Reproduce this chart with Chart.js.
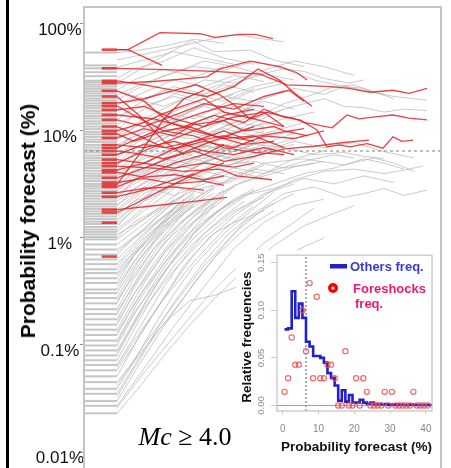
<!DOCTYPE html>
<html>
<head>
<meta charset="utf-8">
<script src="https://cdn.jsdelivr.net/npm/chart.js@4.4.1/dist/chart.umd.min.js"></script>
<style>
  body { margin: 0; background: #fff; }
  #wrap { position: relative; width: 451px; height: 468px; overflow: hidden; background: #fff; }
  #edge { position: absolute; left: 6px; top: 0; width: 3px; height: 468px; background: #000; }
  #main { position: absolute; left: 0; top: 0; }
  #inset { position: absolute; left: 236px; top: 250px; background: #fff; }
  #ytitle { position: absolute; left: 28px; top: 221px; transform: translate(-50%, -50%) rotate(-90deg);
            white-space: nowrap; font: bold 21px "Liberation Sans", Arial, sans-serif; color: #000; }
  #mc { position: absolute; left: 185px; top: 437px; transform: translate(-50%, -50%);
        white-space: nowrap; font: 26px "Liberation Serif", "Times New Roman", serif; color: #000; }
</style>
</head>
<body>
<div id="wrap">
  <div id="edge"></div>
  <canvas id="main" width="451" height="468"></canvas>
  <div id="ytitle">Probability forecast (%)</div>
  <div id="mc"><i>Mc</i> ≥ 4.0</div>
  <canvas id="inset" width="203" height="218"></canvas>
</div>
<script>
// ---- main panel data (x = time step, y = forecast in %) ----
const yTickValues = [0.01, 0.1, 1, 10, 100];
const yTickLabels = ['0.01%', '0.1%', '1%', '10%', '100%'];
const threshold = 6.5;
const rugStart = 0.1, redRugStart = 1.77, lineStart = 3.3;

// starting forecasts of all sequences (left rug)
const grayRug = [54, 41, 38.5, 35.4, 32.5, 29.5, 28.6, 27.2, 26, 24.8, 23.5, 22.4, 21.3, 20.1, 19.2, 18.1,
  17.2, 16.3, 15.4, 14.6, 13.8, 13.1, 12.3, 11.7, 11.0, 10.4, 9.8, 9.3, 8.8, 8.3, 7.9, 7.4, 7.0, 6.6,
  6.3, 5.9, 5.6, 5.3, 5.0, 4.75, 4.5, 4.25, 4.0, 3.8, 3.6, 3.4, 3.2, 3.05, 2.9, 2.74, 2.6, 2.46, 2.33,
  2.2, 2.08, 1.97, 1.87, 1.77, 1.68, 1.59, 1.5, 1.42, 1.35, 1.27, 1.2, 1.14, 1.08, 1.02,
  0.97, 0.87, 0.78, 0.70, 0.63, 0.57, 0.51, 0.47, 0.42, 0.38, 0.33, 0.305, 0.275, 0.245, 0.216, 0.195,
  0.174, 0.155, 0.139, 0.124, 0.110, 0.099, 0.089, 0.080, 0.072, 0.065, 0.058, 0.051, 0.045, 0.039,
  0.035, 0.030, 0.027, 0.023];

// starting forecasts of foreshock sequences
const redRug = [57.5, 38.5, 29.4, 28, 23.7, 21, 18.2, 17.1, 15.7, 14.1, 12.7, 11, 10, 9.4, 8.6, 7.4, 6.95,
  6.5, 6.0, 5.4, 5.0, 4.7, 4.3, 4.1, 3.65, 3.3, 3.15, 3.0, 2.65, 2.43, 1.84, 1.73, 1.39, 0.67];

// other sequences
const grayPaths = [
  [[3.3,0.023],[5.5,0.04],[8,0.08],[10.5,0.15],[13,0.27],[16,0.5],[19,0.85],[22,1.3],[25,1.7],[27,2.0]],
  [[3.3,0.026],[6,0.055],[9,0.12],[12,0.26],[15,0.5],[18,0.9],[21,1.4],[23,1.9]],
  [[3.3,0.027],[6,0.06],[9,0.15],[12,0.35],[15,0.8],[18,1.4],[21,2.0],[24,2.3]],
  [[3.3,0.030],[5.5,0.065],[8,0.15],[11,0.38],[14,0.85],[16,1.4],[19,2.1]],
  [[3.3,0.033],[5,0.06],[7,0.12],[10,0.28],[13,0.65],[16,1.2],[19,1.8]],
  [[3.3,0.035],[6,0.09],[9,0.25],[12,0.6],[14.5,1.1],[17,1.7],[20,2.6],[23,3.0],[26,2.4],[28,2.6],[30,2.9],[32,2.5],[34.3,2.8]],
  [[3.3,0.039],[5,0.07],[7,0.15],[9,0.3],[11,0.55],[14,1.1],[17,1.9],[19,2.7]],
  [[3.3,0.042],[6,0.1],[9,0.24],[12,0.55],[15,1.1],[18,1.9],[21,2.6]],
  [[3.3,0.045],[5.5,0.08],[8,0.16],[10.6,0.26],[13,0.29],[15.3,0.35],[18,0.5],[21,0.75],[24,1.0]],
  [[3.3,0.051],[5.5,0.12],[8,0.28],[10,0.55],[12.5,1.0],[15,1.6],[18,2.5],[21,3.5],[24,4.2],[27,4.4],[30,4.0],[32,4.3],[33.9,4.7]],
  [[3.3,0.058],[5,0.1],[7,0.2],[9,0.38],[11,0.7],[13,1.1],[15,1.4],[18,1.8]],
  [[3.3,0.062],[5,0.11],[8,0.27],[11,0.6],[14,1.2],[17,2.0]],
  [[3.3,0.065],[6,0.17],[8,0.35],[10,0.65],[12,1.1],[15,1.8],[18,2.4]],
  [[3.3,0.072],[5,0.14],[7,0.3],[9,0.55],[11,0.9],[14,1.6],[16,2.2]],
  [[3.3,0.080],[5,0.16],[7,0.34],[9,0.65],[11,1.1],[13,1.7],[16,2.5],[19,2.9],[22,3.6],[25,3.2],[28,3.8],[31,3.3]],
  [[3.3,0.085],[6,0.22],[9,0.5],[12,1.0],[15,1.7],[18,2.6],[21,3.2]],
  [[3.3,0.089],[6,0.24],[8.5,0.55],[11,1.1],[13.5,1.8],[16,2.5],[19,3.2],[22,4.0],[25,4.5],[28,5.5],[30,5.0],[32,4.4]],
  [[3.3,0.099],[5,0.19],[7,0.38],[9,0.72],[11,1.25],[13,2.0]],
  [[3.3,0.105],[5,0.2],[8,0.48],[11,1.0],[14,1.8],[17,2.8]],
  [[3.3,0.110],[5.5,0.26],[8,0.58],[10,1.0],[12,1.45],[15,2.3],[17,2.9]],
  [[3.3,0.124],[5,0.24],[7,0.46],[9,0.85],[11,1.4],[13,2.2],[15,3.0]],
  [[3.3,0.131],[6,0.33],[9,0.75],[12,1.4],[15,2.3]],
  [[3.3,0.139],[6,0.38],[8,0.72],[10,1.2],[12,1.7],[14,2.5]],
  [[3.3,0.155],[5,0.3],[7,0.58],[9,1.0],[11,1.6],[13.5,2.6],[16,3.4],[19,4.3],[22,5.2],[25,6.0],[27,5.6]],
  [[3.3,0.165],[5,0.3],[8,0.72],[11,1.4],[14,2.3]],
  [[3.3,0.174],[5,0.34],[7,0.66],[9,1.15],[11,1.8],[14,2.8]],
  [[3.3,0.195],[5.5,0.45],[7.5,0.85],[9.5,1.35],[12,2.0],[15,3.1],[18,3.8],[21,4.6],[24,5.2]],
  [[3.3,0.205],[6,0.5],[8,0.9],[11,1.6],[14,2.4]],
  [[3.3,0.216],[5,0.42],[7,0.8],[9,1.35],[11,2.1],[13,2.9]],
  [[3.3,0.245],[5,0.48],[7,0.9],[9,1.5],[11,2.1],[13,2.6]],
  [[3.3,0.26],[5,0.45],[7,0.8],[10,1.5],[13,2.4]],
  [[3.3,0.275],[5.5,0.62],[7.5,1.05],[10,1.7],[12,2.3]],
  [[3.3,0.305],[5,0.55],[7,0.95],[9,1.6],[11,2.3],[13,3.1]],
  [[3.3,0.33],[5,0.6],[7,1.05],[9,1.7],[11,2.5]],
  [[3.3,0.36],[6,0.8],[8,1.25],[11,2.0]],
  [[3.3,0.38],[5,0.68],[7,1.15],[9,1.9],[11,2.7]],
  [[3.3,0.42],[5.5,0.8],[8,1.4],[10,2.1]],
  [[3.3,0.45],[5,0.7],[8,1.3],[11,2.2]],
  [[3.3,0.47],[5,0.75],[7,1.2],[9,1.8]],
  [[3.3,0.51],[6,0.9],[8,1.4],[10,2.0]],
  [[3.3,0.54],[6,1.0],[9,1.7],[12,2.6]],
  [[3.3,0.57],[5,0.85],[7,1.3],[9,1.9],[11,2.6]],
  [[3.3,0.63],[5.5,1.0],[8,1.6],[10,2.3]],
  [[3.3,0.70],[5,1.0],[7,1.5],[9,2.2]],
  [[3.3,0.74],[5,1.0],[8,1.6],[11,2.4]],
  [[3.3,0.78],[6,1.2],[8,1.8],[10,2.5]],
  [[3.3,0.87],[5,1.15],[7,1.6],[9,2.3]],
  [[3.3,0.97],[6,1.5],[8,2.1],[10,2.9]],
  [[3.3,1.02],[5,1.4],[8,2.0],[11,2.8],[14,3.3],[17,4.4],[20,4.0]],
  [[3.3,1.08],[6,1.5],[9,2.2],[12,3.5],[15,4.5],[18,4.0],[21,5.5],[24,6.5]],
  [[3.3,1.14],[6,1.8],[9,2.9],[12,4.2],[15,3.6],[18,4.8]],
  [[3.3,1.2],[5,1.6],[8,2.8],[11,4.0],[14,5.5],[17,7.0],[20,6.0]],
  [[3.3,1.27],[5,1.9],[8,3.0],[11,3.6],[14,4.8],[17,5.2],[20,4.5],[23,5.0]],
  [[3.3,1.34],[6,2.2],[9,3.0],[12,2.6],[15,3.8],[18,5.0],[22,5.5],[26,4.8],[29,5.6],[31,5.0],[33,4.2]],
  [[3.3,1.42],[6,2.4],[9,4.0],[12,3.4],[15,5.0],[18,6.2]],
  [[3.3,1.49],[5,2.0],[8,3.2],[11,4.5],[13,6.0],[16,5.0],[19,7.5],[22,9]],
  [[3.3,1.59],[5,2.2],[8,2.8],[11,3.9],[14,3.2],[17,4.1]],
  [[3.3,1.66],[6,2.6],[9,3.6],[12,5.0],[15,6.5],[18,8.0]],
  [[3.3,1.77],[6,2.8],[9,4.4],[12,6.0],[15,7.2],[18,6.4],[21,7.5]],
  [[3.3,1.84],[5,2.5],[7,3.5],[10,4.2],[13,5.5],[16,8.5],[19,10],[22,12]],
  [[3.3,1.97],[5,2.9],[8,4.0],[11,5.5],[14,4.6],[17,5.8]],
  [[3.3,2.05],[6,3.0],[9,2.5],[12,3.2],[15,4.2],[18,3.6]],
  [[3.3,2.2],[6,3.3],[9,4.9],[12,4.2],[15,5.6],[18,7.6],[21,9.5]],
  [[3.3,2.28],[5,3.5],[8,5.0],[11,7.0],[14,9.0],[17,11],[20,13],[23,15]],
  [[3.3,2.46],[5,3.2],[8,4.4],[11,6.2],[14,7.5],[17,6.5]],
  [[3.3,2.54],[6,4.0],[9,6.5],[12,5.5],[15,8.0],[18,10]],
  [[3.3,2.74],[6,4.2],[9,5.2],[12,7.2],[15,6.4],[18,8.5]],
  [[3.3,2.83],[5,3.8],[8,5.5],[11,4.8],[14,6.0],[17,7.5],[20,7.0],[23,6.0],[26,6.3],[28,5.8],[30,5.5]],
  [[3.3,3.05],[5,4.2],[8,6.3],[11,8.0],[14,10.5],[17,9.0]],
  [[3.3,3.15],[6,4.5],[9,6.0],[12,8.5],[15,11],[18,14],[21,17],[24,20],[26,17],[28,16.5],[30,15],[32,16],[34.3,15.5]],
  [[3.3,3.4],[6,5.0],[9,4.4],[12,5.6],[15,7.0],[18,8.8],[21,10]],
  [[3.3,3.5],[5,5.0],[8,7.5],[11,10],[14,9],[17,12],[20,16]],
  [[3.3,3.8],[5,4.6],[8,6.0],[11,7.6],[14,6.8],[17,8.2]],
  [[3.3,3.9],[6,5.5],[9,7.0],[12,6.5],[15,5.5],[18,6.5],[21,8.0],[24,7.0],[27,7.8],[30,6.4],[33,5.6]],
  [[3.3,4.25],[6,6.2],[9,8.0],[12,7.0],[15,9.5],[18,12]],
  [[3.3,4.3],[5,6],[8,8.5],[11,12],[14,15],[17,13],[20,18],[23,22],[25,26],[27,27],[29,23],[31,21],[33,20],[34.3,19.4]],
  [[3.3,4.8],[6,7],[9,9.5],[12,13],[15,11],[18,9.5]],
  [[3.3,5.0],[5,6.8],[8,9.2],[11,8.4],[14,11],[17,14]],
  [[3.3,5.4],[5,8],[8,11],[11,16],[14,21],[17,26],[20,30]],
  [[3.3,5.9],[6,7.6],[9,10.5],[12,9.0],[15,12],[18,11]],
  [[3.3,6.0],[6,8.5],[9,12],[12,10],[15,14],[18,20],[21,25],[24,22],[26,26],[28,25],[31,20]],
  [[3.3,6.7],[5,9.5],[8,14],[11,18],[14,24],[17,33],[20,38],[22,36],[24,31],[26.5,28],[28,30]],
  [[3.3,7.0],[5,8.8],[8,11.5],[11,14],[14,12.5],[17,16]],
  [[3.3,7.4],[6,10],[9,13],[12,17],[15,14],[18,19],[21,16]],
  [[3.3,8.2],[5,11],[8,15],[11,13],[14,18],[17,24],[20,28]],
  [[3.3,8.8],[6,12],[9,10],[12,13],[15,17],[18,15]],
  [[3.3,9.2],[6,13],[9,18],[12,24],[15,30],[18,37],[21,45],[24,40],[27,33]],
  [[3.3,10.2],[5,14],[8,12],[11,16],[14,21],[17,19],[20,24]],
  [[3.3,11.4],[6,16],[9,22],[12,30],[15,28],[18,34],[21,30]],
  [[3.3,12.7],[5,17],[8,24],[11,20],[14,27],[17,23]],
  [[3.3,13.8],[6,17],[9,21],[12,18],[15,22]],
  [[3.3,15.7],[5,20],[8,17],[11,22],[14,19],[17,25]],
  [[3.3,17.5],[6,23],[9,30],[12,26],[15,33],[18,29]],
  [[3.3,19.4],[5,24],[8,33],[11,40],[14,37],[17,45],[20,38],[23,30],[26,26],[28,24],[30,22]],
  [[3.3,21.6],[6,28],[9,35],[12,45],[15,40],[18,33]],
  [[3.3,23.5],[6,20],[9,26],[12,22],[15,27]],
  [[3.3,24],[5,30],[8,38],[11,32],[14,40]],
  [[3.3,28],[7,45],[10.8,70],[13,55],[16.6,57],[19,46],[22,40]],
  [[3.3,31],[5,38],[8,45],[11,60],[14,48],[17,42]],
  [[3.3,39.4],[6,46],[9,55],[12,48],[15,42]],
  [[3.3,46],[6,52],[9,60],[12,70],[15,80],[17,75],[20,68]],
  [[3.3,54],[5,56],[8,62],[11,72],[14,66]]
];

// foreshock sequences
const redPaths = [
  [[3.3,57.5],[4.4,57.5],[7.6,83],[11.6,81],[13.1,75],[15.6,80],[17.1,80],[18.9,73]],
  [[3.3,57.5],[4.4,57.5],[7.8,41]],
  [[3.3,38.5],[8,37.5],[13,36],[17.6,34],[20.3,27],[22.5,26.5],[24.6,26],[26.5,25],[28.6,23],[30.9,24],[32.5,22.5],[34.3,25]],
  [[3.3,29.4],[6,27],[9,24],[12.3,21],[15,26],[17.4,38],[19.5,30],[21.2,22],[22.8,17]],
  [[3.3,28],[7,29],[12.3,32],[13.6,38],[16.6,45],[19.6,40],[21.3,35],[22.3,30]],
  [[3.3,23.7],[6,19],[8.5,12],[11,10],[14,8.5],[17,9],[20,7]],
  [[3.3,21],[5.5,14],[8,8],[10,6]],
  [[3.3,18.2],[6,20],[9,24],[11.2,27],[13.5,22],[15.2,17],[16.6,13],[18.3,15],[19.5,14],[20.9,13.2],[22,12],
   [23.3,11.4],[24.8,10.7],[26.3,14.1],[27.5,13],[29.3,13.6],[30.9,14.1],[32.5,13.2],[34.3,12.7]],
  [[3.3,14.1],[7,13],[10,11],[13,14],[16,12],[18,16],[20,13.5],[21.6,12.7],[23.3,10.2],[24.3,7.1],[25.5,7.4],
   [26.6,7.1],[28.3,7.6],[29.9,6.9],[30.9,8.8],[31.8,8.0],[32.9,8.2]],
  [[3.3,17.1],[5,14],[8,10],[10.5,11],[13,9],[16,7.5],[19,8]],
  [[3.3,15.7],[6,17],[9,13],[12,11],[15,13.5],[18,15],[20,11]],
  [[3.3,12.7],[6,11],[9,14],[12,18],[15,16],[18,21],[20.5,24],[22,19]],
  [[3.3,11],[5.5,9],[8,7],[11,8],[14,10],[16,8.5],[19,9.5],[22,10.5]],
  [[3.3,10],[6,12],[9,16],[12,20],[14,15],[17,13],[20,11]],
  [[3.3,9.4],[5,8],[8,10],[11,9],[14,7],[17,6.3],[20,6]],
  [[3.3,8.6],[6,10.5],[9,9],[11,11.5],[14,12.5],[16,10],[19,11],[20,10],[22.4,9]],
  [[3.3,7.4],[6,7],[9,8],[12,6.5],[15,6],[18,7],[21,6]],
  [[3.3,6.95],[6,9],[9,12],[12,15],[15,18],[18,17]],
  [[3.3,6.5],[5,6.2],[8,5.5],[11,6.5],[14,5.2],[17,5.8],[20,6.8],[23,7.2],[26,7.8],[28.5,8.2]],
  [[3.3,6.0],[6,7.5],[9,6.8],[12,8],[15,7],[18,9],[21,8.5],[24,10]],
  [[3.3,5.4],[6,5.0],[9,4.5],[12,5],[15,4.6],[17,5]],
  [[3.3,5.0],[6,6.5],[9,8.5],[12,11],[14,14],[17,16]],
  [[3.3,4.7],[7,4.5],[10,4.2],[13.6,4.4],[15.3,3.8],[18.8,3.5]],
  [[3.3,4.3],[6,5],[9,6.8],[11,8],[14,9],[17,8]],
  [[3.3,4.1],[6,3.7],[9,3.9],[12,3.5],[14,3.8]],
  [[3.3,3.65],[6,4.5],[9,5.8],[12,7.5],[15,9.5],[17,11]],
  [[3.3,3.3],[6,3.6],[9,3.2],[12,3.4],[14,3.1]],
  [[3.3,3.15],[5.5,6],[8,13],[10,20],[12,24]],
  [[3.3,3.0],[6,3.8],[9,5.0],[12,6.0],[14,7.5]],
  [[3.3,2.65],[6,2.9],[9,3.0],[12,2.8]],
  [[3.3,2.43],[6,2.8],[9,3.5],[11,4.0]],
  [[3.3,1.84],[7,2.0],[11,2.2],[14.3,2.4]],
  [[3.3,1.73],[6,2.3],[9,3.2],[12,4.3],[14,5.0]]
];

// ---- inset data ----
const insetXTicks = [0, 10, 20, 30, 40];
const insetYTicks = [0, 0.05, 0.10, 0.15];
const insetYLabels = ['0.00', '0.05', '0.10', '0.15'];
const binX = [0.5,1.5,2.5,3.5,4.5,5.5,6.5,7.5,8.5,9.5,10.5,11.5,12.5,13.5,14.5,15.5,16.5,17.5,18.5,19.5,
  20.5,21.5,22.5,23.5,24.5,25.5,26.5,27.5,28.5,29.5,30.5,31.5,32.5,33.5,34.5,35.5,36.5,37.5,38.5,39.5,40.5,41.7];
const othersFreq = [0.080,0.081,0.120,0.092,0.107,0.092,0.067,0.062,0.052,0.052,0.050,0.045,0.034,0.029,0.021,
  0.005,0.016,0.004,0.011,0.003,0.003,0.006,0.003,0.002,0.003,0.001,0.0015,0.001,0.0015,0.0005,0.001,0.0005,
  0.001,0.0005,0.0005,0.001,0.0005,0.0005,0.0005,0.0005,0.0005,0.0005];
const foreFreq = [0.0143,0.0286,0.0714,0.0429,0.0429,0.1,0.0571,0.1286,0.0286,0.1143,0.0286,0.0286,0.0429,0.0429,
  0.0286,0,0,0.0571,0,0,0.0286,0,0.0286,0.0143,0,0,0,0,0.0143,0,0.0143,0,0,0,0,0,0.0143,0,0,0,0];

const GRAY = 'rgba(180,180,180,0.7)';
const RED = 'rgba(228,28,32,0.82)';

// ---- main chart ----
const datasets = [];
datasets.push({ data: [{x: 0, y: threshold}, {x: 35.7, y: threshold}], borderColor: '#808080',
  borderWidth: 1.2, borderDash: [3, 3], order: 0 });
redPaths.forEach(p => datasets.push({ data: p.map(([x, y]) => ({x, y})), borderColor: RED, borderWidth: 1.3, order: 1 }));
redRug.forEach(v => datasets.push({ data: [{x: redRugStart, y: v}, {x: lineStart, y: v}], borderColor: 'rgba(230,50,50,0.9)', borderWidth: 2.6, order: 2 }));
grayPaths.forEach(p => datasets.push({ data: p.map(([x, y]) => ({x, y})), borderColor: GRAY, borderWidth: 1, order: 3 }));
grayRug.forEach(v => datasets.push({ data: [{x: rugStart, y: v}, {x: lineStart, y: v}], borderColor: '#c6c6c6', borderWidth: 2, order: 4 }));

const frame = {
  id: 'frame',
  afterDraw(chart) {
    const {ctx, chartArea: a} = chart;
    ctx.save();
    ctx.strokeStyle = '#c4c4c4';
    ctx.lineWidth = 2;
    ctx.strokeRect(a.left, a.top, a.right - a.left, a.bottom - a.top + 4);
    ctx.restore();
  }
};

new Chart(document.getElementById('main'), {
  type: 'line',
  data: { datasets },
  options: {
    responsive: false, animation: false, devicePixelRatio: 1,
    layout: { padding: { left: 0, top: 7, right: 10, bottom: 0 } },
    elements: { point: { radius: 0 }, line: { tension: 0, fill: false } },
    plugins: { legend: { display: false }, tooltip: { enabled: false } },
    scales: {
      x: { type: 'linear', min: 0, max: 35.7, display: false },
      y: {
        type: 'logarithmic', min: 0.00709, max: 144,
        afterBuildTicks: s => { s.ticks = yTickValues.map(v => ({value: v})); },
        afterFit: s => { s.width = 84; s.paddingTop = 0; s.paddingBottom = 0; },
        border: { display: false },
        grid: { display: true, drawOnChartArea: false, drawTicks: true, tickLength: 4, color: '#888' },
        ticks: { crossAlign: 'center', padding: -4, labelOffset: 6, color: '#111',
          font: { family: 'Liberation Sans', size: 17 },
          callback: (v, i) => yTickLabels[i] }
      }
    }
  },
  plugins: [frame]
});

// ---- inset chart ----
const insetDeco = {
  id: 'insetDeco',
  afterDraw(chart) {
    const {ctx, chartArea: a, scales: {y}} = chart;
    ctx.save();
    ctx.strokeStyle = '#c4c4c4';
    ctx.lineWidth = 1.2;
    ctx.strokeRect(a.left, a.top, a.right - a.left, a.bottom - a.top);

    ctx.textAlign = 'center';
    ctx.textBaseline = 'middle';
    ctx.fillStyle = '#8a8a8a';
    ctx.font = '9.5px "Liberation Sans"';
    insetYTicks.forEach((v, i) => {
      ctx.save();
      ctx.translate(25, y.getPixelForValue(v));
      ctx.rotate(-Math.PI / 2);
      ctx.fillText(insetYLabels[i], 0, 0);
      ctx.restore();
    });

    ctx.fillStyle = '#111';
    ctx.font = 'bold 13.5px "Liberation Sans"';
    ctx.save();
    ctx.translate(11, (a.top + a.bottom) / 2 + 4);
    ctx.rotate(-Math.PI / 2);
    ctx.fillText('Relative frequencies', 0, 0);
    ctx.restore();
    ctx.fillText('Probability forecast (%)', (a.left + a.right) / 2 + 2, 197);

    // legend
    ctx.textAlign = 'left';
    ctx.font = 'bold 13px "Liberation Sans"';
    ctx.fillStyle = '#2020cc';
    ctx.fillRect(94, 14, 17, 4.5);
    ctx.fillStyle = '#3a3ad4';
    ctx.fillText('Others freq.', 114, 17);
    ctx.fillStyle = '#ff0000';
    ctx.beginPath(); ctx.arc(97, 38, 5, 0, Math.PI * 2); ctx.fill();
    ctx.fillStyle = '#fff';
    ctx.beginPath(); ctx.arc(97, 38, 1.6, 0, Math.PI * 2); ctx.fill();
    ctx.fillStyle = '#f0186a';
    ctx.fillText('Foreshocks', 117, 39);
    ctx.fillText('freq.', 119, 54);
    ctx.restore();
  }
};

new Chart(document.getElementById('inset'), {
  type: 'line',
  data: {
    datasets: [
      { data: [{x: -1.6, y: 0}, {x: 41.7, y: 0}], borderColor: '#a0a0a0', borderWidth: 1, pointRadius: 0, order: 3 },
      { data: [{x: threshold, y: -0.0058}, {x: threshold, y: 0.1579}], borderColor: '#999', borderWidth: 1.6,
        borderDash: [2, 2], pointRadius: 0, order: 2 },
      { data: binX.map((x, i) => ({x, y: othersFreq[i]})), borderColor: '#2020cc', borderWidth: 2.6,
        stepped: 'before', pointRadius: 0, order: 1 },
      { data: foreFreq.map((y, i) => ({x: binX[i], y})), showLine: false, pointRadius: 2.6, pointBorderWidth: 1.2,
        pointBorderColor: 'rgba(236,80,80,0.85)', pointBackgroundColor: 'rgba(0,0,0,0)', order: 0 }
    ]
  },
  options: {
    responsive: false, animation: false, devicePixelRatio: 1,
    layout: { padding: { left: 0, top: 5, right: 7, bottom: 0 } },
    elements: { line: { tension: 0, fill: false } },
    plugins: { legend: { display: false }, tooltip: { enabled: false } },
    scales: {
      x: {
        type: 'linear', min: -1.6, max: 41.7,
        afterBuildTicks: s => { s.ticks = insetXTicks.map(v => ({value: v})); },
        afterFit: s => { s.height = 57; s.paddingLeft = 0; s.paddingRight = 0; },
        border: { display: false },
        grid: { display: true, drawOnChartArea: false, drawTicks: true, tickLength: 3, color: '#ccc' },
        ticks: { padding: 9, color: '#888', maxRotation: 0, font: { family: 'Liberation Sans', size: 10 } }
      },
      y: {
        type: 'linear', min: -0.0058, max: 0.1579,
        afterBuildTicks: s => { s.ticks = insetYTicks.map(v => ({value: v})); },
        afterFit: s => { s.width = 41; s.paddingTop = 0; s.paddingBottom = 0; },
        border: { display: false },
        grid: { display: true, drawOnChartArea: false, drawTicks: true, tickLength: 6, color: '#ccc' },
        ticks: { display: false }
      }
    }
  },
  plugins: [insetDeco]
});
</script>
</body>
</html>
